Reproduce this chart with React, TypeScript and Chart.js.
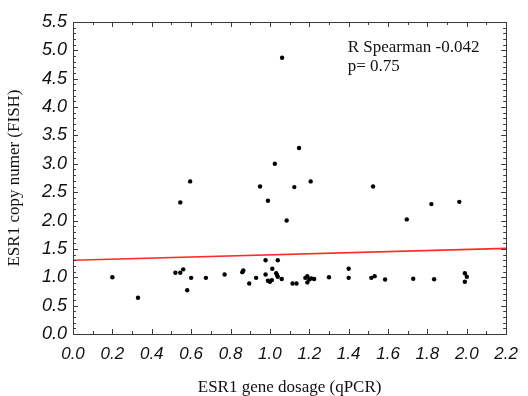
import { useEffect, useRef } from "react";
import { Chart, registerables } from "chart.js";

Chart.register(...registerables);

const xValues = [
  0.20, 0.33, 0.52, 0.545, 0.56, 0.545, 0.58, 0.595, 0.60, 0.675,
  0.77, 0.86, 0.865, 0.895, 0.93, 0.95, 0.978, 0.978, 0.99, 0.99,
  1.0, 1.01, 1.012, 1.025, 1.032, 1.036, 1.04, 1.04, 1.06, 1.062,
  1.085, 1.115, 1.135, 1.124, 1.148, 1.18, 1.19, 1.19, 1.20, 1.21,
  1.225, 1.207, 1.30, 1.40, 1.40, 1.515, 1.532, 1.524, 1.585, 1.695,
  1.728, 1.82, 1.834, 1.962, 1.99, 2.0, 1.99,
];
const yValues = [
  1.00, 0.64, 1.08, 1.08, 1.14, 2.32, 0.77, 2.69, 0.99, 0.99,
  1.05, 1.09, 1.12, 0.89, 0.99, 2.60, 1.30, 1.05, 0.94, 2.35,
  0.92, 0.95, 1.15, 3.00, 1.07, 1.04, 1.01, 1.30, 0.97, 4.87,
  2.00, 0.89, 0.89, 2.59, 3.28, 0.99, 1.02, 0.91, 0.96, 0.98,
  0.97, 2.69, 1.00, 1.15, 0.99, 0.99, 1.02, 2.60, 0.96, 2.02,
  0.975, 2.29, 0.965, 2.33, 1.07, 1.01, 0.92,
];

const fitX = [0, 2.2];
const fitY = [1.3, 1.51];

const xTickValues = [0, 0.2, 0.4, 0.6, 0.8, 1.0, 1.2, 1.4, 1.6, 1.8, 2.0, 2.2];
const yTickValues = [0, 0.5, 1.0, 1.5, 2.0, 2.5, 3.0, 3.5, 4.0, 4.5, 5.0, 5.5];

const xTitle = "ESR1 gene dosage (qPCR)";
const yTitle = "ESR1 copy numer (FISH)";
const annotationLines = ["R Spearman -0.042", "p= 0.75"];

const SANS = '"Liberation Sans", Arial, sans-serif';
const SERIF = '"Liberation Serif", "Times New Roman", serif';

const framePlugin = {
  id: "frame",
  afterDraw(chart: any) {
    const ctx = chart.ctx;
    const { left, right, top, bottom } = chart.chartArea;
    const xs = chart.scales.x;
    const ys = chart.scales.y;
    ctx.save();
    ctx.strokeStyle = "#3a3a3a";
    ctx.lineWidth = 1;
    ctx.strokeRect(Math.round(left) + 0.5, Math.round(top) + 0.5, Math.round(right - left), Math.round(bottom - top));
    ctx.beginPath();
    for (let i = 0; i <= 22; i++) {
      const px = Math.round(xs.getPixelForValue(i / 10)) + 0.5;
      const len = i % 2 === 0 ? 5 : 3;
      ctx.moveTo(px, bottom);
      ctx.lineTo(px, bottom - len);
      ctx.moveTo(px, top);
      ctx.lineTo(px, top + len);
    }
    for (let i = 0; i <= 55; i++) {
      const py = Math.round(ys.getPixelForValue(i / 10)) + 0.5;
      const len = i % 5 === 0 ? 5 : 3;
      ctx.moveTo(left, py);
      ctx.lineTo(left + len, py);
      ctx.moveTo(right, py);
      ctx.lineTo(right - len, py);
    }
    ctx.stroke();

    ctx.fillStyle = "#111";
    ctx.font = "17px " + SERIF;
    ctx.textAlign = "left";
    ctx.textBaseline = "alphabetic";
    const tx = xs.getPixelForValue(1.395);
    ctx.fillText(annotationLines[0], tx, ys.getPixelForValue(4.97));
    ctx.fillText(annotationLines[1], tx, ys.getPixelForValue(4.635));
    ctx.restore();
  },
};

export default function App() {
  const canvasRef = useRef<HTMLCanvasElement | null>(null);

  useEffect(() => {
    document.body.style.margin = "0";
    const canvas = canvasRef.current;
    if (!canvas) return;
    const points = xValues.map((x, i) => ({ x, y: yValues[i] }));
    const fit = fitX.map((x, i) => ({ x, y: fitY[i] }));
    const chart = new Chart(canvas, {
      type: "scatter",
      data: {
        datasets: [
          {
            type: "line",
            data: fit,
            borderColor: "#ff2a2a",
            borderWidth: 1.6,
            pointRadius: 0,
            fill: false,
          } as any,
          {
            data: points,
            backgroundColor: "#000",
            borderColor: "#000",
            borderWidth: 0,
            pointRadius: 2.2,
            pointHoverRadius: 2.2,
          },
        ],
      },
      options: {
        animation: false,
        responsive: true,
        maintainAspectRatio: false,
        layout: { padding: { left: 0, top: 22, right: 15, bottom: 0 } },
        plugins: {
          legend: { display: false },
          tooltip: { enabled: false },
        },
        scales: {
          x: {
            type: "linear",
            min: 0,
            max: 2.2,
            afterFit: (s: any) => {
              s.height = 62;
            },
            afterBuildTicks: (s: any) => {
              s.ticks = xTickValues.map((v) => ({ value: v }));
            },
            grid: { display: false, drawTicks: false },
            border: { display: false },
            ticks: {
              padding: 10,
              maxRotation: 0,
              autoSkip: false,
              color: "#111",
              font: { family: SANS, size: 17, style: "italic" },
              callback: (v: any) => Number(v).toFixed(1),
            },
            title: {
              display: true,
              text: xTitle,
              color: "#111",
              padding: 0,
              font: { family: SERIF, size: 17, lineHeight: 1 },
            },
          },
          y: {
            type: "linear",
            min: 0,
            max: 5.5,
            afterFit: (s: any) => {
              s.width = 73;
            },
            afterBuildTicks: (s: any) => {
              s.ticks = yTickValues.map((v) => ({ value: v }));
            },
            grid: { display: false, drawTicks: false },
            border: { display: false },
            ticks: {
              padding: 6,
              autoSkip: false,
              color: "#111",
              font: { family: SANS, size: 18, style: "italic" },
              callback: (v: any) => Number(v).toFixed(1),
            },
            title: {
              display: true,
              text: yTitle,
              color: "#111",
              padding: { top: 4, bottom: 0 },
              font: { family: SERIF, size: 17, lineHeight: 1.2 },
            },
          },
        },
      },
      plugins: [framePlugin],
    });
    return () => chart.destroy();
  }, []);

  return (
    <div style={{ position: "relative", width: 528, height: 396 }}>
      <canvas ref={canvasRef} />
    </div>
  );
}
